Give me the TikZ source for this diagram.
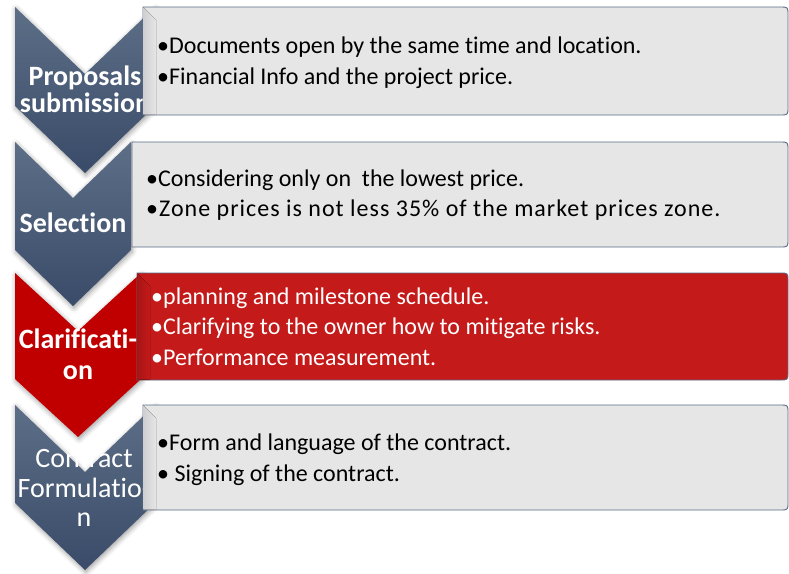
\documentclass[tikz,border=0pt]{standalone}
\usepackage{fontspec}
\setmainfont{Carlito}[Ligatures=NoCommon]
\usetikzlibrary{shadows.blur}

\definecolor{chevtop}{HTML}{5D6E87}
\definecolor{chevbot}{HTML}{3A4B69}
\definecolor{chevred}{HTML}{C00000}
\definecolor{boxgray}{HTML}{E6E6E6}
\definecolor{boxshade}{HTML}{CFCFD2}
\definecolor{boxedge}{HTML}{5B6B86}
\definecolor{boxred}{HTML}{C41A1A}
\definecolor{boxredshade}{HTML}{A81414}

\tikzset{
  chevshadow/.style={blur shadow={shadow xshift=1pt, shadow yshift=-2pt,
      shadow blur radius=5pt, shadow opacity=40}},
  chevblue/.style={chevshadow, top color=chevtop, bottom color=chevbot},
  chevredfill/.style={chevshadow, fill=chevred},
  chevlabel/.style={anchor=base, text=white, font=\fontsize{28}{28}\selectfont\bfseries, inner sep=0pt},
  chevlabelthin/.style={anchor=base, text=white, font=\fontsize{28}{28}\selectfont, inner sep=0pt},
  listbox/.style={draw=boxedge, line width=0.9pt, fill=boxgray},
  listboxred/.style={draw=boxedge, line width=0.9pt, fill=boxred},
  itemtext/.style={anchor=base west, font=\fontsize{24}{24}\selectfont, inner sep=0pt, text=black},
  itemtextred/.style={itemtext, text=white},
}

\begin{document}
\begin{tikzpicture}[x=1pt, y=-1pt]
\useasboundingbox (0,0) rectangle (789,573);

% ---- chevrons with their labels ----
\path[chevblue] (15,7) -- (85,74) -- (155,7) -- (155,106) -- (85,173) -- (15,106) -- cycle;
\node[chevlabel] (l1a) at (85,85) {Proposals};
\node[chevlabel] (l1b) at (85,112) {submission};

\path[chevblue] (15,142) -- (73,198) -- (131,142) -- (131,250) -- (73,306) -- (15,250) -- cycle;
\node[chevlabel] (l2) at (73,232) {Selection};

\path[chevredfill] (15,273) -- (78,331) -- (141,273) -- (141,379) -- (78,437) -- (15,379) -- cycle;
\node[chevlabel] (l3a) at (78,348) {Clarificati-};
\node[chevlabel] (l3b) at (78,379) {on};

\path[chevblue] (15,405) -- (85,472) -- (155,405) -- (155,503) -- (85,570) -- (15,503) -- cycle;
\node[chevlabelthin] (l4a) at (84,467) {Contract};
\node[chevlabelthin] (l4b) at (84,497) {Formulatio-};
\node[chevlabelthin] (l4c) at (84,526) {n};

% ---- text boxes (square left side, rounded right side) ----
\path[listbox] (143,7) -- (780,7) .. controls (788,7) .. (788,15) -- (788,107)
  .. controls (788,115) .. (780,115) -- (143,115) -- cycle;
\fill[left color=boxshade, right color=boxgray] (143.5,7.5) -- (156,20) -- (156,114.5) -- (143.5,114.5) -- cycle;
\node[itemtext] (t1a) at (157,53) {•Documents open by the same time and location.};
\node[itemtext] (t1b) at (157,84) {•Financial Info and the project price.};

\path[listbox] (132,142) -- (780,142) .. controls (788,142) .. (788,150) -- (788,239)
  .. controls (788,247) .. (780,247) -- (132,247) -- cycle;
\node[itemtext] (t2a) at (146,186) {•Considering only on~ the lowest price.};
\node[itemtext] (t2b) at (146,216) {\addfontfeatures{LetterSpace=4.2}•Zone prices is not less 35\% of the market prices zone.};

\path[listboxred] (137,273) -- (780,273) .. controls (788,273) .. (788,281) -- (788,372)
  .. controls (788,380) .. (780,380) -- (137,380) -- cycle;
\fill[left color=boxredshade, right color=boxred] (137.5,273.5) -- (150,286) -- (150,379.5) -- (137.5,379.5) -- cycle;
\node[itemtextred] (t3a) at (151,304) {•planning and milestone schedule.};
\node[itemtextred] (t3b) at (151,334) {•Clarifying to the owner how to mitigate risks.};
\node[itemtextred] (t3c) at (151,365) {•Performance measurement.};

\path[listbox] (143,405) -- (780,405) .. controls (788,405) .. (788,413) -- (788,502)
  .. controls (788,510) .. (780,510) -- (143,510) -- cycle;
\fill[left color=boxshade, right color=boxgray] (143.5,405.5) -- (156,418) -- (156,509.5) -- (143.5,509.5) -- cycle;
\node[itemtext] (t4a) at (157,450) {•Form and language of the contract.};
\node[itemtext] (t4b) at (157,481) {• Signing of the contract.};
\end{tikzpicture}
\end{document}
